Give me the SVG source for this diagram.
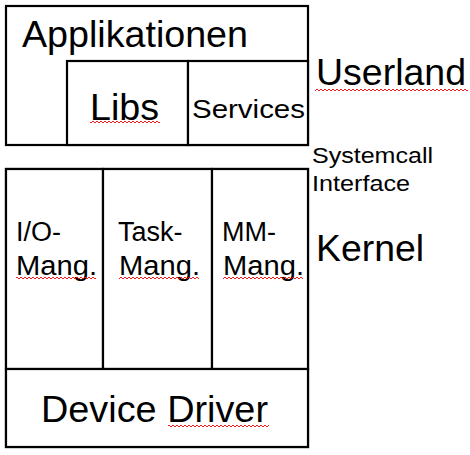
<svg xmlns="http://www.w3.org/2000/svg" width="470" height="455" viewBox="0 0 470 455">
<defs>
<style>
.box{fill:#fff;stroke:#000;stroke-width:2.2}
.ln{fill:none;stroke:#000;stroke-width:2.2}
text{font-family:"Liberation Sans",Arial,sans-serif;fill:#000}
.big{font-size:36px}
.mid{font-size:27px}
.sm{font-size:26px}
.lab{font-size:22px}
.sp{fill:none;stroke:#e00;stroke-width:0.9}
</style>
<pattern id="wave" width="4" height="4" patternUnits="userSpaceOnUse"><path d="M0,2 L1,1 L3,3 L4,2" fill="none" stroke="#e00" stroke-width="0.9"/></pattern>
</defs>
<g id="userland">
<rect class="box" x="6" y="6" width="302" height="139"/>
<text class="big" x="22" y="47" textLength="226" lengthAdjust="spacingAndGlyphs">Applikationen</text>
</g>
<g id="libs">
<rect class="box" x="67" y="61" width="121" height="84"/>
<text class="big" x="90" y="120" textLength="69" lengthAdjust="spacingAndGlyphs">Libs</text>
<rect x="90" y="121" width="70" height="4" fill="url(#wave)"/>
</g>
<g id="services">
<rect class="box" x="188" y="61" width="120" height="84"/>
<text class="sm" x="192" y="118" textLength="113" lengthAdjust="spacingAndGlyphs">Services</text>
</g>
<g id="kernel">
<rect class="box" x="6" y="169" width="302" height="278"/>
</g>
<g id="io">
<rect class="box" x="6" y="169" width="97" height="200"/>
<text class="mid" x="16" y="241">I/O-</text>
<text class="mid" x="16" y="275" textLength="81" lengthAdjust="spacingAndGlyphs">Mang.</text>
<rect x="16" y="276" width="80" height="4" fill="url(#wave)"/>
</g>
<g id="task">
<rect class="box" x="103" y="169" width="109" height="200"/>
<text class="mid" x="118" y="241">Task-</text>
<text class="mid" x="119" y="275" textLength="81" lengthAdjust="spacingAndGlyphs">Mang.</text>
<rect x="119" y="276" width="80" height="4" fill="url(#wave)"/>
</g>
<g id="mm">
<rect class="box" x="212" y="169" width="96" height="200"/>
<text class="mid" x="222" y="241">MM-</text>
<text class="mid" x="223" y="275" textLength="81" lengthAdjust="spacingAndGlyphs">Mang.</text>
<rect x="223" y="276" width="80" height="4" fill="url(#wave)"/>
</g>
<g id="driver">
<rect class="box" x="6" y="369" width="302" height="78"/>
<text class="big" x="41" y="422" textLength="227" lengthAdjust="spacingAndGlyphs">Device Driver</text>
<rect x="168" y="423" width="101" height="4" fill="url(#wave)"/>
</g>
<g id="labels">
<text class="big" x="316" y="85" textLength="150" lengthAdjust="spacingAndGlyphs">Userland</text>
<rect x="315" y="87" width="153" height="4" fill="url(#wave)"/>
<text class="lab" x="312" y="163" textLength="121" lengthAdjust="spacingAndGlyphs">Systemcall</text>
<text class="lab" x="312" y="191" textLength="98" lengthAdjust="spacingAndGlyphs">Interface</text>
<text class="big" x="316" y="261" textLength="108" lengthAdjust="spacingAndGlyphs">Kernel</text>
</g>
<g id="connectors"></g>
</svg>
